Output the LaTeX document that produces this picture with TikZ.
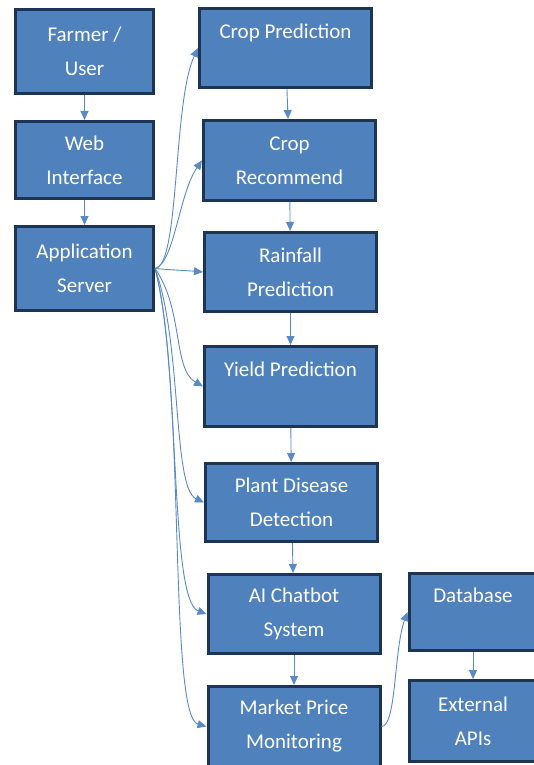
\documentclass[tikz,border=0pt]{standalone}
\usepackage{fontspec}
\setmainfont{Carlito}
\usetikzlibrary{positioning,arrows.meta}
\definecolor{boxblue}{HTML}{4F81BD}
\definecolor{boxedge}{HTML}{1D3454}
\definecolor{linkblue}{HTML}{5A8AC6}
\tikzset{
	inner sep=2mm,
	block/.style={rectangle,draw=boxedge,fill=boxblue,line width=3pt,text=white,align=center,font=\fontsize{21}{34}\selectfont,minimum height=80pt},
	user/.style={block,minimum width=138pt},
	module/.style={block,minimum width=172pt},
	store/.style={block,minimum width=128pt},
	pre/.style={->,>={Triangle[length=9pt,width=8pt]},draw=linkblue,line width=0.9pt},
	post/.style={<-,>={Triangle[length=9pt,width=8pt]},draw=linkblue,line width=0.9pt}
}
\begin{document}
\begin{tikzpicture}
\useasboundingbox (0,0) rectangle (534pt,-765pt);
% left column
\node[user,minimum height=84pt,anchor=north west] (farmer) at (14pt,-8pt) {Farmer /\\User};
\node[user,minimum height=77pt] (web) [below=25pt of farmer] {Web\\Interface}
   edge [post] (farmer);
\node[user,minimum height=84pt] (app) [below=25pt of web] {Application\\Server}
   edge [post] (web);
% modules
\node[module,minimum height=79pt] (croppred) [right=43pt of farmer.north east,anchor=north west,yshift=1pt] {Crop Prediction\\~};
\node[module] (croprec) [below=30pt of croppred,xshift=4pt] {Crop\\Recommend}
   edge [post] (croppred);
\node[module,minimum height=79pt] (rain) [below=29pt of croprec,xshift=1pt] {Rainfall\\Prediction}
   edge [post] (croprec);
\node[module] (yield) [below=32pt of rain] {Yield Prediction\\~}
   edge [post] (rain);
\node[module,minimum height=78pt] (plant) [below=34pt of yield,xshift=1pt] {Plant Disease\\Detection}
   edge [post] (yield);
\node[module,minimum height=79pt] (ai) [below=30pt of plant,xshift=2.5pt] {AI Chatbot\\System}
   edge [post] (plant);
\node[module] (market) [below=30pt of ai] {Market Price\\Monitoring}
   edge [post] (ai);
% storage
\node[store,minimum height=77pt] (database) [right=26pt of ai.north east,anchor=north west,yshift=1pt] {Database\\~};
\node[store,minimum height=81pt] (external) [below=27pt of database] {External\\APIs}
   edge [post] (database);
% server links
\draw[pre] (app.east) to[out=5,in=245,out distance=25pt,in distance=60pt] (croppred.west);
\draw[pre] (app.east) to[out=15,in=235,out distance=20pt,in distance=40pt] (croprec.west);
\draw[pre] (app.east) to[out=-5,in=175] (rain.west);
\draw[pre] (app.east) to[out=-55,in=150,out distance=50pt,in distance=35pt] (yield.west);
\draw[pre] (app.east) to[out=-70,in=155,out distance=80pt,in distance=35pt] (plant.west);
\draw[pre] (app.east) to[out=-75,in=160,out distance=100pt,in distance=40pt] (ai.west);
\draw[pre] (app.east) to[out=-75,in=165,out distance=120pt,in distance=40pt] (market.west);
\draw[pre] (market.east) to[out=0,in=250,out distance=15pt,in distance=40pt] (database.west);
\end{tikzpicture}
\end{document}
